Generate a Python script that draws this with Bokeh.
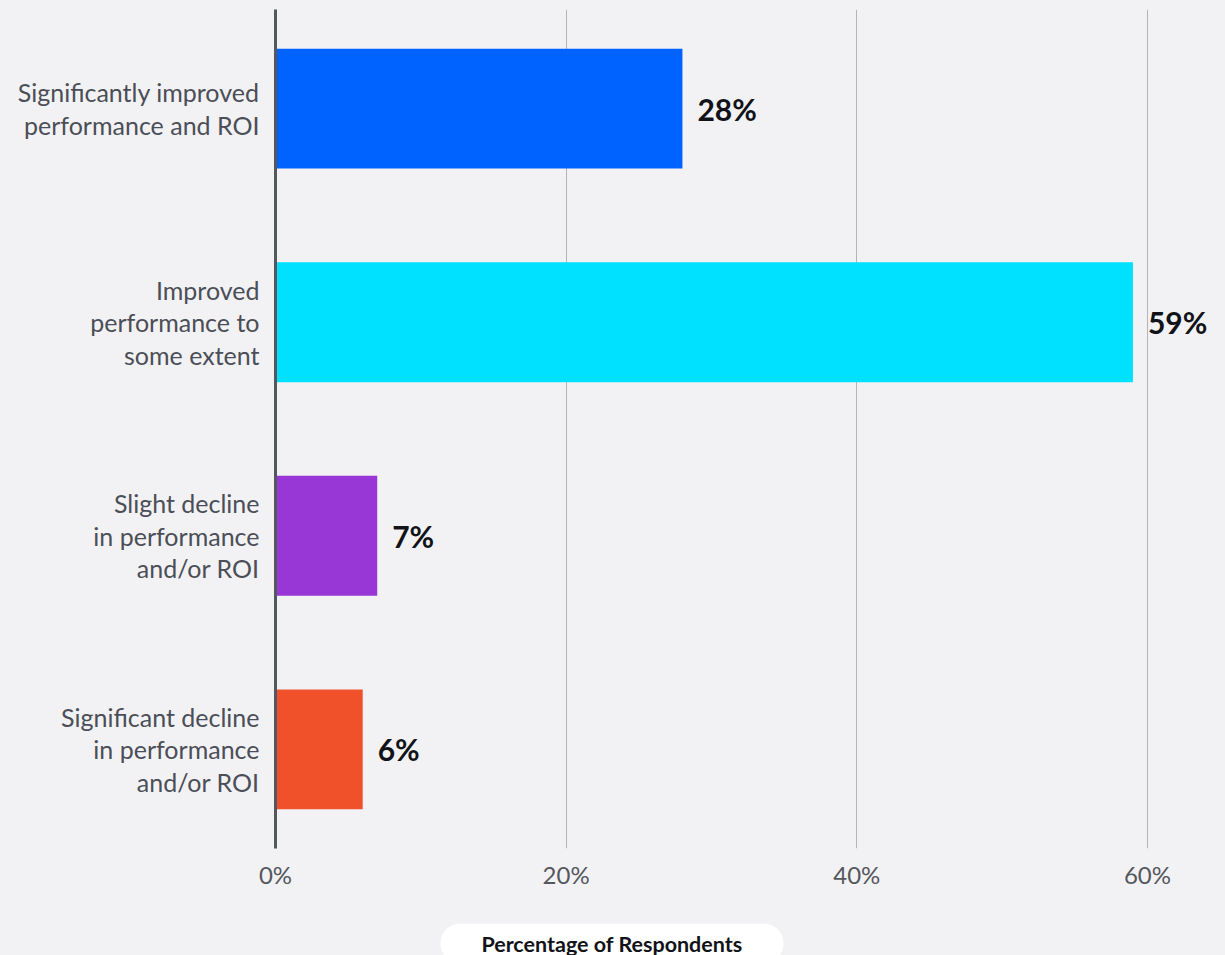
from bokeh.plotting import figure
from bokeh.layouts import column
from bokeh.models import ColumnDataSource, Range1d, FixedTicker, PrintfTickFormatter
from bokeh.core.properties import value
from bokeh.embed import file_html
from bokeh.resources import INLINE

categories = [
    "Significantly improved\nperformance and ROI",
    "Improved\nperformance to\nsome extent",
    "Slight decline\nin performance\nand/or ROI",
    "Significant decline\nin performance\nand/or ROI",
]
percentages = [28, 59, 7, 6]
bar_colors = ["#0062FF", "#00E1FF", "#9936D6", "#F0502A"]
x_ticks = [0, 20, 40, 60]
axis_title = "Percentage of Respondents"

n = len(categories)
positions = [n - 1 - i for i in range(n)]
labels = [f"{v}%" for v in percentages]

src = ColumnDataSource(dict(y=positions, v=percentages, c=bar_colors,
                            lab=labels, lx=[v + 1.03 for v in percentages]))

BG = "#F2F2F4"
p = figure(width=1225, height=923, output_backend="svg", toolbar_location=None,
           x_range=Range1d(0, 65.37), y_range=Range1d(-0.464, n - 1 + 0.464),
           min_border_left=275, min_border_right=0, min_border_top=9, min_border_bottom=75,
           background_fill_color=BG, border_fill_color=BG, outline_line_color=None)

p.hbar(y="y", right="v", left=0, height=0.5616, fill_color="c", line_color=None, source=src)
p.text(x="lx", y="y", text="lab", source=src, text_font=value("Lato"), text_font_style="bold",
       text_font_size="30px", text_color="#111318", text_baseline="middle", text_align="left")

xa = p.xaxis[0]
xa.ticker = FixedTicker(ticks=x_ticks)
xa.formatter = PrintfTickFormatter(format="%d%%")
xa.axis_line_color = None
xa.major_tick_line_color = None
xa.minor_tick_line_color = None
xa.major_label_text_font = "Lato"
xa.major_label_text_font_size = "24px"
xa.major_label_text_color = "#55575e"
xa.major_label_standoff = 5

ya = p.yaxis[0]
ya.ticker = FixedTicker(ticks=positions)
ya.major_label_overrides = {pos: cat for pos, cat in zip(positions, categories)}
ya.axis_line_color = "#55575e"
ya.axis_line_width = 3
ya.major_tick_line_color = None
ya.minor_tick_line_color = None
ya.major_label_text_font = "Lato"
ya.major_label_text_font_size = "25px"
ya.major_label_text_color = "#4b4e57"
ya.major_label_text_line_height = 1.08
ya.major_label_standoff = 10

p.ygrid.grid_line_color = None
p.xgrid.ticker = FixedTicker(ticks=x_ticks)
p.xgrid.grid_line_color = "#b4b4b8"
p.xgrid.grid_line_width = 1

# axis title pill (bottom strip); its frame is aligned with the main frame (x 275..1225)
p2 = figure(width=1225, height=32, output_backend="svg", toolbar_location=None,
            x_range=Range1d(275, 1225), y_range=Range1d(0, 32),
            min_border=0, min_border_left=275, background_fill_color=BG, border_fill_color=BG,
            outline_line_color=None)
p2.axis.visible = False
p2.grid.visible = False
pill_src = ColumnDataSource(dict(x=[611.5], y=[12], t=[axis_title]))
p2.rect(x=[611.5], y=[12], width=303, height=40, fill_color="white", line_color=None)
p2.circle(x=[460, 763], y=[12, 12], radius=20, fill_color="white", line_color=None)
p2.text(x="x", y="y", text="t", source=pill_src, text_font=value("Lato"),
        text_font_style="bold", text_font_size="21.5px", text_color="#111318",
        text_align="center", text_baseline="middle")

layout = column(p, p2, spacing=0)
layout.styles = {"background-color": BG}
html = file_html(layout, INLINE)
html = html.replace("<body>", '<body style="margin:0;background-color:%s">' % BG, 1)
open("out.html", "w").write(html)
